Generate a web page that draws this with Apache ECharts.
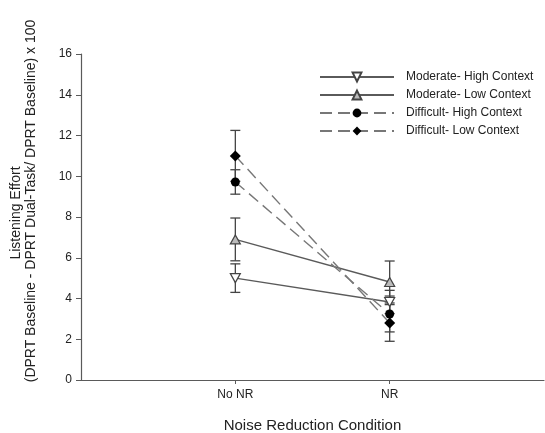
<!DOCTYPE html>
<html>
<head>
<meta charset="utf-8">
<script src="https://cdn.jsdelivr.net/npm/echarts@6/dist/echarts.min.js"></script>
<style>
  html, body { margin: 0; padding: 0; background: #fff; }
  #chart { width: 545px; height: 433px; }
</style>
</head>
<body>
<div id="chart"></div>
<script>
// x positions: 1 = No NR, 2 = NR
const conditions = ['No NR', 'NR'];
const seriesNames = [
  'Moderate- High Context',
  'Moderate- Low Context',
  'Difficult- High Context',
  'Difficult- Low Context'
];
const modHigh = [5.0, 3.83];
const modLow = [6.9, 4.81];
const diffHigh = [9.72, 3.24];
const diffLow = [11.0, 2.8];
// standard error (symmetric)
const modHighErr = [0.7, 0.57];
const modLowErr = [1.05, 1.03];
const diffHighErr = [0.6, 0.88];
const diffLowErr = [1.25, 0.9];
const yTicks = [0, 2, 4, 6, 8, 10, 12, 14, 16];
const yTitle = ['Listening Effort', '(DPRT Baseline - DPRT Dual-Task/ DPRT Baseline) x 100'];

const chartDom = document.getElementById('chart');
const chart = echarts.init(chartDom);

const lineColor = '#5a5a5a';
const textColor = '#222';
const font = 'Liberation Sans, Arial, sans-serif';

function toPoints(vals) {
  return vals.map((v, i) => [i + 1, v]);
}

function errData(vals, errs) {
  return vals.map((v, i) => [i + 1, v - errs[i], v + errs[i]]);
}

function errorBarSeries(vals, errs) {
  return {
    type: 'custom',
    silent: true,
    z: 1,
    data: errData(vals, errs),
    renderItem: (params, api) => {
      const x = api.value(0);
      const lo = api.coord([x, api.value(1)]);
      const hi = api.coord([x, api.value(2)]);
      const cap = 5;
      const style = { stroke: '#444', lineWidth: 1.3 };
      return {
        type: 'group',
        children: [
          { type: 'line', shape: { x1: lo[0], y1: lo[1], x2: hi[0], y2: hi[1] }, style },
          { type: 'line', shape: { x1: lo[0] - cap, y1: lo[1], x2: lo[0] + cap, y2: lo[1] }, style },
          { type: 'line', shape: { x1: hi[0] - cap, y1: hi[1], x2: hi[0] + cap, y2: hi[1] }, style }
        ]
      };
    }
  };
}

const dash = [12, 6];

const option = {
  animation: false,
  backgroundColor: '#fff',
  textStyle: { fontFamily: font },
  grid: { left: 81, right: 1, top: 54, bottom: 53, outerBoundsMode: 'none', containLabel: false },
  graphic: [
    {
      type: 'text',
      x: 16,
      y: 213,
      rotation: Math.PI / 2,
      style: { text: yTitle[0], font: '14px ' + font, fill: textColor, align: 'center', verticalAlign: 'middle' }
    },
    {
      type: 'text',
      x: 31,
      y: 201,
      rotation: Math.PI / 2,
      style: { text: yTitle[1], font: '14px ' + font, fill: textColor, align: 'center', verticalAlign: 'middle' }
    }
  ],
  legend: {
    orient: 'vertical',
    left: 314,
    top: 66,
    itemWidth: 74,
    itemHeight: 11,
    itemGap: 6,
    data: seriesNames,
    textStyle: { fontSize: 12, color: textColor, padding: [0, 0, 0, 7] }
  },
  xAxis: {
    type: 'value',
    min: 0,
    max: 3,
    interval: 1,
    name: 'Noise Reduction Condition',
    nameLocation: 'middle',
    nameGap: 38,
    nameTextStyle: { fontSize: 15, color: textColor },
    splitLine: { show: false },
    axisLine: { lineStyle: { color: lineColor, width: 1.2 } },
    axisTick: { customValues: [1, 2], length: 4, inside: false, lineStyle: { color: lineColor } },
    axisLabel: {
      customValues: [1, 2],
      fontSize: 12,
      color: textColor,
      margin: 9,
      formatter: (v) => conditions[v - 1] || ''
    }
  },
  yAxis: {
    type: 'value',
    min: 0,
    max: 16,
    interval: 2,
    splitLine: { show: false },
    axisLine: { show: true, lineStyle: { color: lineColor, width: 1.2 } },
    axisTick: { show: true, length: 5, lineStyle: { color: lineColor } },
    axisLabel: {
      fontSize: 12,
      color: textColor,
      margin: 9,
      customValues: yTicks
    }
  },
  series: [
    errorBarSeries(modHigh, modHighErr),
    errorBarSeries(modLow, modLowErr),
    errorBarSeries(diffHigh, diffHighErr),
    errorBarSeries(diffLow, diffLowErr),
    {
      name: seriesNames[0],
      type: 'line',
      z: 3,
      data: toPoints(modHigh),
      symbol: 'path://M0,0 L10,0 L5,9 Z',
      symbolSize: [10, 9],
      itemStyle: { color: '#fff', borderColor: '#444', borderWidth: 1.2 },
      lineStyle: { color: lineColor, width: 1.4 }
    },
    {
      name: seriesNames[1],
      type: 'line',
      z: 3,
      data: toPoints(modLow),
      symbol: 'triangle',
      symbolSize: [10, 9],
      itemStyle: { color: '#bbb', borderColor: '#444', borderWidth: 1.2 },
      lineStyle: { color: lineColor, width: 1.4 }
    },
    {
      name: seriesNames[2],
      type: 'line',
      z: 3,
      data: toPoints(diffHigh),
      symbol: 'circle',
      symbolSize: 9,
      itemStyle: { color: '#000', borderColor: '#000', borderWidth: 0 },
      lineStyle: { color: '#777', width: 1.4, type: dash }
    },
    {
      name: seriesNames[3],
      type: 'line',
      z: 3,
      data: toPoints(diffLow),
      symbol: 'diamond',
      symbolSize: [11, 11],
      itemStyle: { color: '#000', borderColor: '#000', borderWidth: 0 },
      lineStyle: { color: '#777', width: 1.4, type: dash }
    }
  ]
};

chart.setOption(option);
</script>
</body>
</html>
